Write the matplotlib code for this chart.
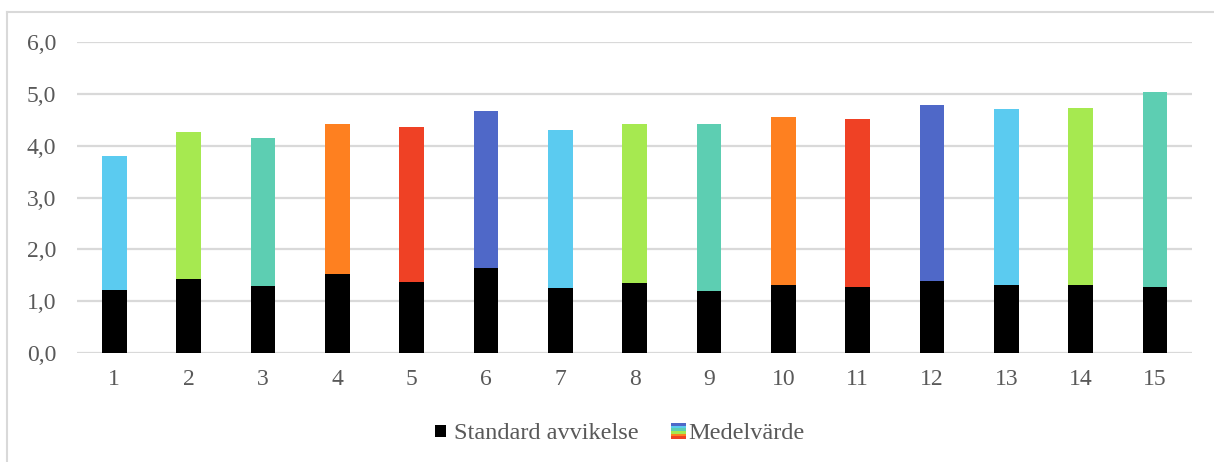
import numpy as np
import matplotlib.pyplot as plt
from matplotlib.patches import Rectangle
from matplotlib.legend_handler import HandlerBase
from matplotlib.lines import Line2D

# values
groups = [str(i) for i in range(1, 16)]
medel = [3.80, 4.26, 4.15, 4.42, 4.36, 4.67, 4.30, 4.42, 4.42, 4.55, 4.51, 4.78, 4.70, 4.72, 5.03]
std_avv = [1.23, 1.44, 1.30, 1.53, 1.38, 1.65, 1.26, 1.35, 1.21, 1.32, 1.28, 1.40, 1.32, 1.32, 1.28]
bar_colors = ['#5BCBF0', '#A6E950', '#5DCEB2', '#FE8020', '#EF4125', '#4F68C8']
legend_grad = ['#4F68C8', '#5BCBF0', '#5DCEB2', '#A6E950', '#FE8020', '#EF4125']
yticks = [0, 1, 2, 3, 4, 5, 6]

plt.rcParams['font.family'] = ['Liberation Serif', 'DejaVu Serif']
txt = '#595959'
grid = '#D9D9D9'


class GradientHandler(HandlerBase):
    def create_artists(self, legend, orig_handle, xd, yd, w, h, fontsize, trans):
        sw, sh = 11.0, 11.5
        x0 = xd + w - sw + 4
        y0 = yd + (h - sh) / 2 - 0.5
        n = len(legend_grad)
        arts = []
        for i, c in enumerate(legend_grad):
            arts.append(Rectangle((x0, y0 + sh * (n - 1 - i) / n), sw, sh / n,
                                  facecolor=c, edgecolor='none', transform=trans))
        return arts


class SquareHandler(HandlerBase):
    def create_artists(self, legend, orig_handle, xd, yd, w, h, fontsize, trans):
        sw, sh = 8.0, 9.0
        x0 = xd + w - sw
        y0 = yd + (h - sh) / 2 - 0.5
        return [Rectangle((x0, y0), sw, sh, facecolor='black', edgecolor='none', transform=trans)]


fig = plt.figure(figsize=(12.14, 4.62), dpi=100)
ax = fig.add_axes([0.0635, 0.235, 0.9185, 0.675])

x = np.arange(len(groups))
colors = [bar_colors[i % len(bar_colors)] for i in range(len(groups))]
ax.bar(x, medel, width=0.33, color=colors, zorder=2)
ax.bar(x, std_avv, width=0.33, color='black', zorder=3)

ax.set_xlim(-0.5, len(groups) - 0.5)
ax.set_ylim(0, 6)
ax.set_yticks(yticks)
ax.set_yticklabels([f'{v:.1f}'.replace('.', ',') for v in yticks])
ax.set_xticks(x)
ax.set_xticklabels(groups)
ax.yaxis.grid(True, color=grid, linewidth=1.6, zorder=0)
ax.set_axisbelow(True)
for s in ax.spines.values():
    s.set_visible(False)
ax.tick_params(length=0, labelsize=17, labelcolor=txt)
ax.tick_params(axis='x', pad=11)
ax.tick_params(axis='y', pad=15)

h1 = Rectangle((0, 0), 1, 1)
h2 = Line2D([], [])
fig.legend([h1, h2], ['Standard avvikelse', 'Medelvärde'],
           handler_map={h1: SquareHandler(), h2: GradientHandler()},
           loc='center', bbox_to_anchor=(0.507, 0.063), ncol=2, frameon=False,
           fontsize=17.5, labelcolor=txt, handlelength=0.8, handletextpad=0.3,
           columnspacing=0.95)

# outer chart frame (only top and left edge visible in the crop)
fig.add_artist(Line2D([7 / 1214, 1], [1 - 12 / 462, 1 - 12 / 462], color=grid, linewidth=1.5))
fig.add_artist(Line2D([7 / 1214, 7 / 1214], [0, 1 - 12 / 462], color=grid, linewidth=1.5))

fig.savefig('out.png', dpi=100)
